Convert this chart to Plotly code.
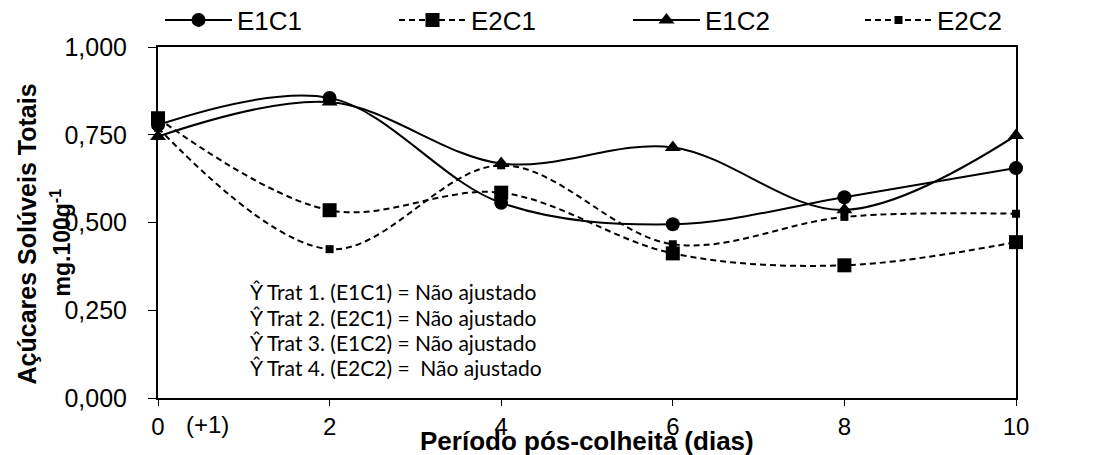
import plotly.graph_objects as go

dias = [0, 2, 4, 6, 8, 10]
tick_labels = ["0", "2", "4", "6", "8", "10"]
e1c1 = [0.778, 0.855, 0.556, 0.495, 0.572, 0.655]
e2c1 = [0.797, 0.535, 0.585, 0.412, 0.378, 0.444]
e1c2 = [0.745, 0.843, 0.668, 0.714, 0.536, 0.748]
e2c2 = [0.770, 0.424, 0.663, 0.438, 0.516, 0.525]

series = [
    ("E1C1", e1c1, "solid", "circle", 14),
    ("E2C1", e2c1, "6px,4px", "square", 14),
    ("E1C2", e1c2, "solid", "triangle-up", 14),
    ("E2C2", e2c2, "6px,4px", "square", 8),
]
legend_ids = ["legend", "legend2", "legend3", "legend4"]
legend_x_px = [160, 394, 628, 860]

W, H = 1094, 455
fig = go.Figure()
for (name, vals, dash, sym, sz), lid in zip(series, legend_ids):
    fig.add_trace(go.Scatter(
        x=dias, y=vals, name=name, mode="lines+markers",
        line=dict(color="black", width=2, dash=dash, shape="spline", smoothing=1.0),
        marker=dict(symbol=sym, size=sz, color="black"),
        cliponaxis=False, legend=lid,
    ))

font_main = "Liberation Sans, Arial, sans-serif"
fig.update_layout(
    width=W, height=H,
    margin=dict(l=158, r=78, t=47, b=57, autoexpand=False),
    paper_bgcolor="white", plot_bgcolor="white",
    separators=",.",
    font=dict(family=font_main, size=24, color="black"),
    showlegend=True,
    xaxis=dict(range=[0, 10], tickvals=dias, ticktext=tick_labels,
               showline=True, linecolor="black", linewidth=2, mirror=True,
               ticks="outside", ticklen=6, tickcolor="black", showgrid=False,
               zeroline=False, tickfont=dict(size=24), ticklabelstandoff=0,
               automargin=False),
    yaxis=dict(range=[0, 1.0], tickvals=[0, 0.25, 0.5, 0.75, 1.0], tickformat=".3f",
               showline=True, linecolor="black", linewidth=2, mirror=True,
               ticks="outside", ticklen=8, tickcolor="black", showgrid=False,
               zeroline=False, tickfont=dict(size=25), ticklabelstandoff=16,
               automargin=False),
)
for lid, lx in zip(legend_ids, legend_x_px):
    fig.update_layout({lid: dict(orientation="h", x=lx / W, xref="container",
                                 y=1 - 20 / H, yref="container",
                                 xanchor="left", yanchor="middle", itemwidth=67,
                                 font=dict(size=26), bgcolor="rgba(0,0,0,0)")})

fig.add_annotation(text="<b>Período pós-colheita (dias)</b>", xref="paper", yref="paper",
                   x=0.5, y=0, yshift=-43, showarrow=False,
                   font=dict(size=26, family=font_main), xanchor="center", yanchor="middle")
fig.add_annotation(text="(+1)", xref="x", yref="paper", x=0.58, y=0, yshift=-26,
                   showarrow=False, font=dict(size=24), yanchor="middle")
fig.add_annotation(text="<b>Açúcares Solúveis Totais</b>", xref="paper", yref="paper",
                   x=0, xshift=-132, y=0.5, yshift=-12, textangle=-90, showarrow=False,
                   font=dict(size=25), xanchor="center", yanchor="middle")
fig.add_annotation(text="<b>mg.100g<sup>-1</sup></b>", xref="paper", yref="paper",
                   x=0, xshift=-98, y=0.5, yshift=-20, textangle=-90, showarrow=False,
                   font=dict(size=23), xanchor="center", yanchor="middle")

eq_lines = [
    "Ŷ Trat 1. (E1C1) = Não ajustado",
    "Ŷ Trat 2. (E2C1) = Não ajustado",
    "Ŷ Trat 3. (E1C2) = Não ajustado",
    "Ŷ Trat 4. (E2C2) =  Não ajustado",
]
for i, t in enumerate(eq_lines):
    fig.add_annotation(text=t, xref="x", yref="y", x=1.05, y=0.303 - i * 0.0725,
                       showarrow=False, xanchor="left", yanchor="middle",
                       font=dict(size=21, family="Lato, Carlito, sans-serif"))

fig.write_html("out.html", post_script="document.body.style.margin='0';",
               config={"displayModeBar": False})
